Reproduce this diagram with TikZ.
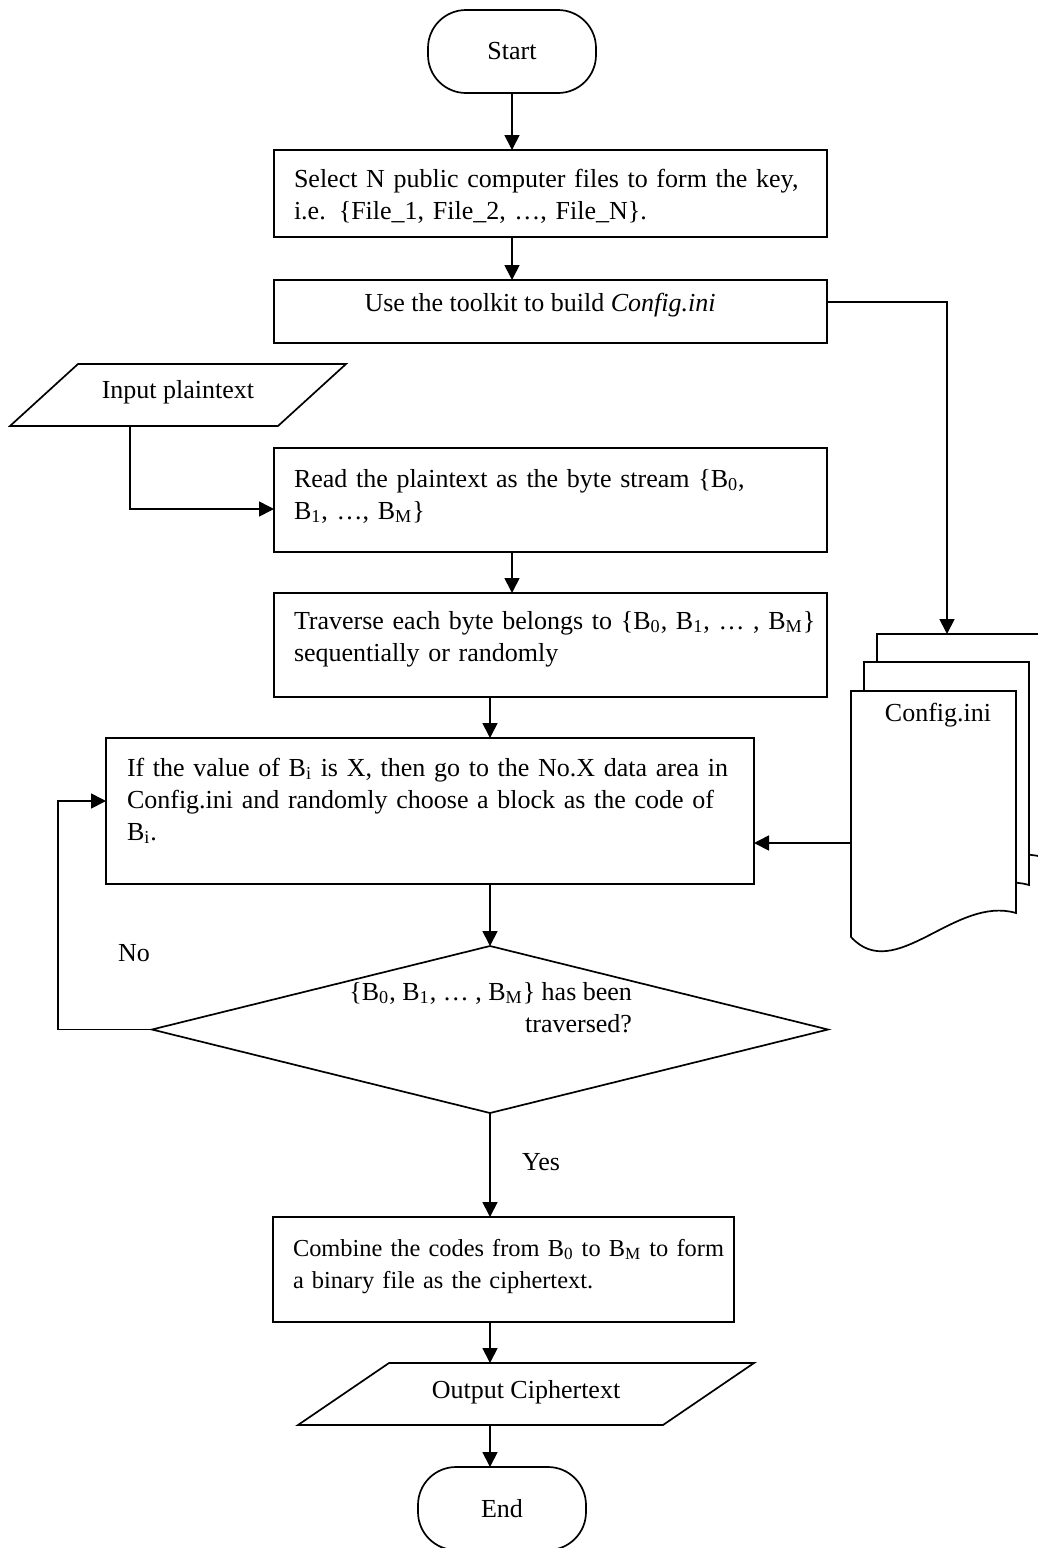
\documentclass[tikz,border=0pt]{standalone}
\usepackage{fontspec}
\setmainfont{Liberation Serif}
\usetikzlibrary{arrows.meta,shapes.geometric,calc}
\begin{document}
\begin{tikzpicture}[x=0.5pt,y=-0.5pt,
  lw/.style={line width=0.85pt},
  every node/.style={inner sep=0pt, outer sep=0pt, font=\fontsize{13}{16}\selectfont},
  procbox/.style={draw, lw, rectangle},
  termbox/.style={draw, lw, rectangle, rounded corners=19pt, minimum width=84pt, minimum height=41.5pt},
  arr/.style={lw, -{Triangle[length=7.5pt,width=7.5pt]}},
  bodytext/.style={anchor=base west, align=left},
  pagefill/.style={draw, lw, fill=white}
]
\useasboundingbox (0,0) rectangle (1038,1548);
\clip (0,0) rectangle (1038,1548);

% terminals
\node[termbox] (start) at (512,51.5) {Start};
\node[termbox] (endt) at (502,1508.5) {End};

% process boxes
\node[procbox, minimum width=276.5pt, minimum height=43.5pt] (b1) at (550.5,193.5) {};
\node[bodytext, text width=261pt] (t1) at (294,187)
  {Select N public computer files to form the key,\\ i.e. \{File\_1, File\_2, …, File\_N\}.};

\node[procbox, minimum width=276.5pt, minimum height=31.5pt] (b2) at (550.5,311.5) {};
\node[anchor=base] (t2) at (540,311) {Use the toolkit to build \textit{Config.ini}};

\node[procbox, minimum width=276.5pt, minimum height=52pt] (b3) at (550.5,500) {};
\node[bodytext, text width=260.5pt] (t3) at (294,487)
  {\makebox[\linewidth][s]{Read the plaintext as the byte stream \{B\textsubscript{0},}\\ B\textsubscript{1}, …, B\textsubscript{M}\}};

\node[procbox, minimum width=276.5pt, minimum height=52pt] (b4) at (550.5,645) {};
\node[bodytext, text width=260.5pt] (t4) at (294,629)
  {\makebox[\linewidth][s]{Traverse each byte belongs to \{B\textsubscript{0}, B\textsubscript{1}, … , B\textsubscript{M}\}}\\ sequentially or randomly};

\node[procbox, minimum width=324pt, minimum height=73pt] (b5) at (430,811) {};
\node[bodytext, text width=303pt] (t5) at (127,776)
  {\makebox[\linewidth][s]{If the value of B\textsubscript{i} is X, then go to the No.X data area in}\\
   \makebox[\linewidth][s]{Config.ini and randomly choose a block as the code of}\\
   B\textsubscript{i}.};

\node[draw, lw, diamond, minimum width=338pt, minimum height=83.5pt] (dia) at (490,1029.5) {};
\node[anchor=base east, align=right] (dtxt) at (632,1032)
  {\{B\textsubscript{0}, B\textsubscript{1}, … , B\textsubscript{M}\} has been\\ traversed?};

\node[procbox, minimum width=230.5pt, minimum height=52.5pt] (b6) at (503.5,1269.5) {};
\node[bodytext, text width=215pt, font=\fontsize{12.2}{16}\selectfont] (t6) at (293,1256)
  {\makebox[\linewidth][s]{Combine the codes from B\textsubscript{0} to B\textsubscript{M} to form}\\ a binary file as the ciphertext.};

% input / output parallelograms
\draw[lw] (78,364) -- (346,364) -- (278,426) -- (10,426) -- cycle;
\node (intxt) at (178,392) {Input plaintext};
\coordinate (inbot) at (130,426);

\draw[lw] (389,1363) -- (754,1363) -- (663,1425) -- (298,1425) -- cycle;
\node (outtxt) at (526,1392) {Output Ciphertext};
\coordinate (outtop) at (490,1363);
\coordinate (outbot) at (490,1425);

% Config.ini multi-document
\draw[pagefill] (877,634) -- (1042,634) -- (1042,857)
  .. controls (981,839) and (921,929) .. (877,881) -- cycle;
\draw[pagefill] (864,662) -- (1029,662) -- (1029,885)
  .. controls (968,867) and (908,957) .. (864,909) -- cycle;
\draw[pagefill] (851,691) -- (1016,691) -- (1016,913)
  .. controls (955,895) and (895,985) .. (851,937) -- cycle;
\node (cfgtxt) at (938,715) {Config.ini};
\coordinate (cfgtop) at (947,634);
\coordinate (cfgleft) at (851,843);
\coordinate (fbl) at (58,0);

% labels
\node (nolbl) at (134,953) {No};
\node (yeslbl) at (541,1162) {Yes};

% connectors
\draw[arr] (start) -- (start |- b1.north);
\draw[arr] (start |- b1.south) -- (start |- b2.north);
\draw[arr] ([yshift=4.75pt]b2.east) -| (cfgtop);
\draw[arr] (inbot) |- ([yshift=-4.5pt]b3.west);
\draw[arr] (start |- b3.south) -- (start |- b4.north);
\draw[arr] (dia.north |- b4.south) -- (dia.north |- b5.north);
\draw[arr] (dia.north |- b5.south) -- (dia.north);
\draw[arr] (cfgleft) -- (cfgleft -| b5.east);
\draw[arr] (dia.west) -- (dia.west -| fbl) |- ([yshift=5pt]b5.west);
\draw[arr] (dia.south) -- (dia.south |- b6.north);
\draw[arr] (dia.south |- b6.south) -- (outtop);
\draw[arr] (outbot) -- (outbot |- endt.north);
\end{tikzpicture}
\end{document}
